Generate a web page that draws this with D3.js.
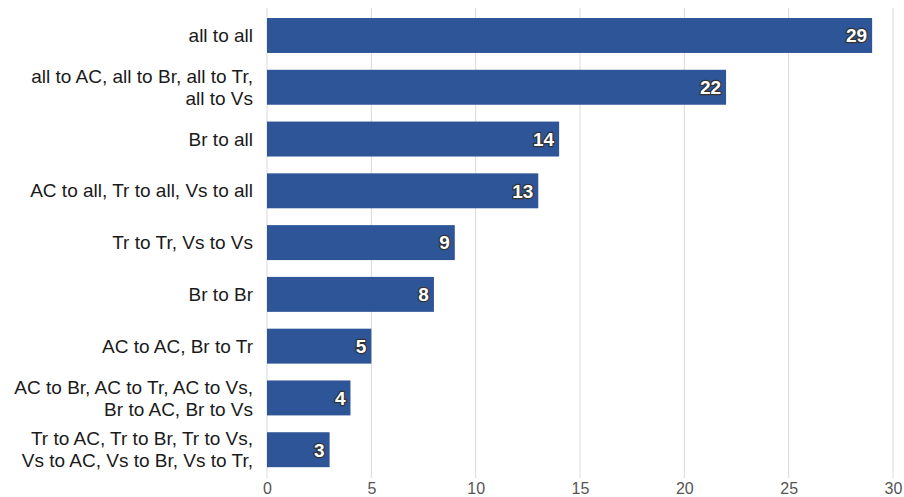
<!DOCTYPE html>
<html><head><meta charset="utf-8">
<script src="https://cdn.jsdelivr.net/npm/d3@7"></script>
<style>body{margin:0;background:#fff;}svg{display:block;font-family:"Liberation Sans",Arial,sans-serif;}</style>
</head><body>
<script>
const categories = [
  ["all to all"],
  ["all to AC, all to Br, all to Tr,", "all to Vs"],
  ["Br to all"],
  ["AC to all, Tr to all, Vs to all"],
  ["Tr to Tr, Vs to Vs"],
  ["Br to Br"],
  ["AC to AC, Br to Tr"],
  ["AC to Br, AC to Tr, AC to Vs,", "Br to AC, Br to Vs"],
  ["Tr to AC, Tr to Br, Tr to Vs,", "Vs to AC, Vs to Br, Vs to Tr,"]
];
const values = [29, 22, 14, 13, 9, 8, 5, 4, 3];
const tickValues = [0, 5, 10, 15, 20, 25, 30];

const W = 904, H = 497;
const svg = d3.select("body").append("svg").attr("width", W).attr("height", H);
const x = d3.scaleLinear().domain([0, 30]).range([267, 893]);
const ids = categories.map((c, i) => i);
const y = d3.scaleBand().domain(ids).range([9.6, 475.6]).paddingInner(0.325).paddingOuter(0.1625);

// grid
svg.append("g").selectAll("line").data(tickValues).join("line")
  .attr("x1", d => x(d)).attr("x2", d => x(d))
  .attr("y1", 8).attr("y2", 478)
  .attr("stroke", "#d9d9d9").attr("stroke-width", 1);

// x axis
const xAxis = svg.append("g").attr("transform", "translate(0,478)")
  .call(d3.axisBottom(x).tickValues(tickValues).tickSize(0).tickPadding(5));
xAxis.select(".domain").remove();
xAxis.selectAll("text").attr("font-size", 16).attr("fill", "#555").attr("font-family", "Liberation Sans, Arial, sans-serif");

// bars
svg.append("g").selectAll("rect").data(values).join("rect")
  .attr("x", x(0)).attr("y", (d, i) => y(i))
  .attr("width", d => x(d) - x(0)).attr("height", y.bandwidth())
  .attr("fill", "#2E5597");

// value labels
svg.append("g").selectAll("text").data(values).join("text")
  .attr("x", d => x(d) - 5).attr("y", (d, i) => y(i) + y.bandwidth() / 2)
  .attr("dy", "0.36em").attr("text-anchor", "end")
  .attr("font-size", 19).attr("font-weight", "bold")
  .attr("fill", "#fff").attr("stroke", "#333").attr("stroke-width", 2.5)
  .attr("paint-order", "stroke").attr("stroke-linejoin", "round")
  .text(d => d);

// category labels
const fs = 19;
const lab = svg.append("g").selectAll("text").data(categories).join("text")
  .attr("text-anchor", "end").attr("font-size", fs).attr("fill", "#1a1a1a")
  .attr("x", 253)
  .attr("y", (d, i) => y(i) + y.bandwidth() / 2);
lab.each(function(lines) {
  const t = d3.select(this);
  const n = lines.length;
  lines.forEach((l, k) => {
    t.append("tspan").attr("x", 253)
      .attr("dy", k === 0 ? ((-(n - 1) * 22 / 2) / fs + 0.35) + "em" : "22px")
      .text(l);
  });
});
</script>
</body></html>
